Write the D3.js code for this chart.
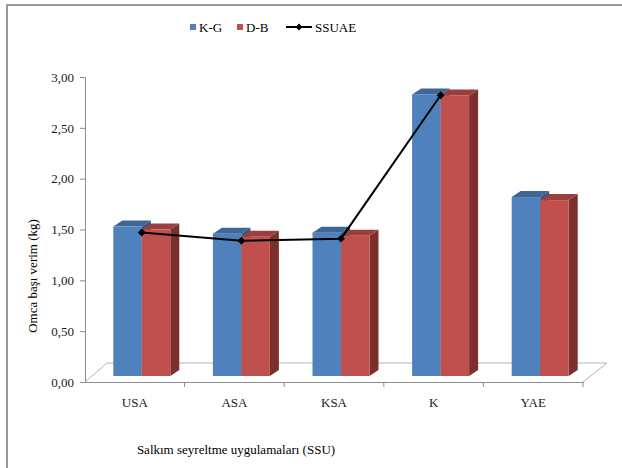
<!DOCTYPE html>
<html>
<head>
<meta charset="utf-8">
<script src="https://cdn.jsdelivr.net/npm/d3@7"></script>
<style>
  body { margin: 0; background: #fff; }
</style>
</head>
<body>
<svg id="chart" width="622" height="468"></svg>
<script>
// chart data
const categories = ["USA", "ASA", "KSA", "K", "YAE"];
const kgValues = [1.47, 1.40, 1.41, 2.77, 1.76];
const dbValues = [1.44, 1.37, 1.38, 2.76, 1.73];
const ssuaeValues = [1.47, 1.39, 1.41, 2.82];
const yTicks = [0, 0.5, 1, 1.5, 2, 2.5, 3];

const FONT = "'Liberation Serif', 'Times New Roman', 'DejaVu Serif', serif";

const svg = d3.select("#chart");

// frame (only top + left visible in the picture)
svg.append("path")
    .attr("d", "M7,468 V5 H622")
    .attr("fill", "none")
    .attr("stroke", "#9a9a9a")
    .attr("stroke-width", 2);

const x = d3.scaleBand().domain(categories).range([85, 583]);
const y = d3.scaleLinear().domain([0, 3]).range([382, 77]);

// 3d offsets
const floorDx = 22, floorDy = -19;
const barDx = 7, barDy = -6;
const depthDx = 9, depthDy = -6;
const barW = 28.5;

// floor
svg.append("path")
    .attr("d", `M${x.range()[0]},${y(0)} L${x.range()[0] + floorDx},${y(0) + floorDy} L${x.range()[1] + floorDx + 2},${y(0) + floorDy} L${x.range()[1]},${y(0)}`)
    .attr("fill", "#fff")
    .attr("stroke", "#b3b3b3")
    .attr("stroke-width", 1);

// y axis
const yAxis = svg.append("g")
    .attr("transform", `translate(${x.range()[0]},0)`)
    .call(d3.axisLeft(y).tickValues(yTicks).tickSize(5).tickPadding(6)
        .tickFormat(d => d3.format(".2f")(d).replace(".", ",")));
yAxis.attr("font-family", FONT);
yAxis.select(".domain").attr("stroke", "#8c8c8c");
yAxis.selectAll(".tick line").attr("stroke", "#8c8c8c");
yAxis.selectAll("text").style("font-size", "13px").style("font-family", FONT).attr("fill", "#1a1a1a");

// x axis
const xAxis = svg.append("g")
    .attr("transform", `translate(0,${y(0)})`)
    .call(d3.axisBottom(x).tickSize(0).tickPadding(16));
xAxis.attr("font-family", FONT);
xAxis.select(".domain").attr("stroke", "#8c8c8c");
xAxis.selectAll("text").style("font-size", "13px").style("font-family", FONT).attr("fill", "#1a1a1a");
svg.append("g").selectAll("line")
    .data(categories)
    .enter().append("line")
    .attr("x1", d => x(d) + x.bandwidth())
    .attr("x2", d => x(d) + x.bandwidth())
    .attr("y1", y(0))
    .attr("y2", y(0) + 5)
    .attr("stroke", "#8c8c8c");

// bars
const series = [
    { name: "K-G", values: kgValues, front: "#4f81bd", top: "#3e6696", side: "#34577f", offset: -barW },
    { name: "D-B", values: dbValues, front: "#c0504d", top: "#9a3f3d", side: "#7b302e", offset: 0 }
];

function drawBar(g, cx, v, s) {
    const x0 = cx + s.offset + barDx;
    const x1 = x0 + barW;
    const yb = y(0) + barDy;
    const yt = y(v) + barDy;
    g.append("path")
        .attr("d", `M${x1},${yb} L${x1 + depthDx},${yb + depthDy} L${x1 + depthDx},${yt + depthDy} L${x1},${yt} Z`)
        .attr("fill", s.side);
    g.append("path")
        .attr("d", `M${x0},${yt} L${x0 + depthDx},${yt + depthDy} L${x1 + depthDx},${yt + depthDy} L${x1},${yt} Z`)
        .attr("fill", s.top);
    g.append("rect")
        .attr("x", x0)
        .attr("y", yt)
        .attr("width", barW)
        .attr("height", yb - yt)
        .attr("fill", s.front);
}

const barsG = svg.append("g");
categories.forEach((c, i) => {
    const cx = x(c) + x.bandwidth() / 2;
    series.forEach(s => drawBar(barsG, cx, s.values[i], s));
});

// SSUAE line
const lineData = ssuaeValues.map((v, i) => ({ cat: categories[i], v: v }));
const line = d3.line()
    .x(d => x(d.cat) + x.bandwidth() / 2 + barDx)
    .y(d => y(d.v));
svg.append("path")
    .datum(lineData)
    .attr("d", line)
    .attr("fill", "none")
    .attr("stroke", "#000")
    .attr("stroke-width", 2);
svg.append("g").selectAll("path")
    .data(lineData)
    .enter().append("path")
    .attr("d", d3.symbol().type(d3.symbolDiamond2).size(40))
    .attr("transform", d => `translate(${x(d.cat) + x.bandwidth() / 2 + barDx},${y(d.v)})`)
    .attr("fill", "#000");

// axis titles
svg.append("text")
    .attr("transform", "translate(37,276) rotate(-90)")
    .attr("text-anchor", "middle")
    .style("font-family", FONT)
    .style("font-size", "13px")
    .text("Omca başı verim (kg)");
svg.append("text")
    .attr("x", 236)
    .attr("y", 454)
    .attr("text-anchor", "middle")
    .style("font-family", FONT)
    .style("font-size", "13px")
    .text("Salkım seyreltme uygulamaları (SSU)");

// legend
const legend = svg.append("g").style("font-family", FONT).style("font-size", "13px");
legend.append("rect").attr("x", 190).attr("y", 24).attr("width", 6).attr("height", 6).attr("fill", "#4f81bd");
legend.append("text").attr("x", 199).attr("y", 32).text("K-G");
legend.append("rect").attr("x", 237).attr("y", 24).attr("width", 6).attr("height", 6).attr("fill", "#c0504d");
legend.append("text").attr("x", 246).attr("y", 32).text("D-B");
legend.append("line").attr("x1", 286).attr("x2", 312).attr("y1", 27).attr("y2", 27)
    .attr("stroke", "#000").attr("stroke-width", 2);
legend.append("path").attr("d", d3.symbol().type(d3.symbolDiamond2).size(30))
    .attr("transform", "translate(299,27)").attr("fill", "#000");
legend.append("text").attr("x", 315).attr("y", 32).text("SSUAE");
</script>
</body>
</html>
